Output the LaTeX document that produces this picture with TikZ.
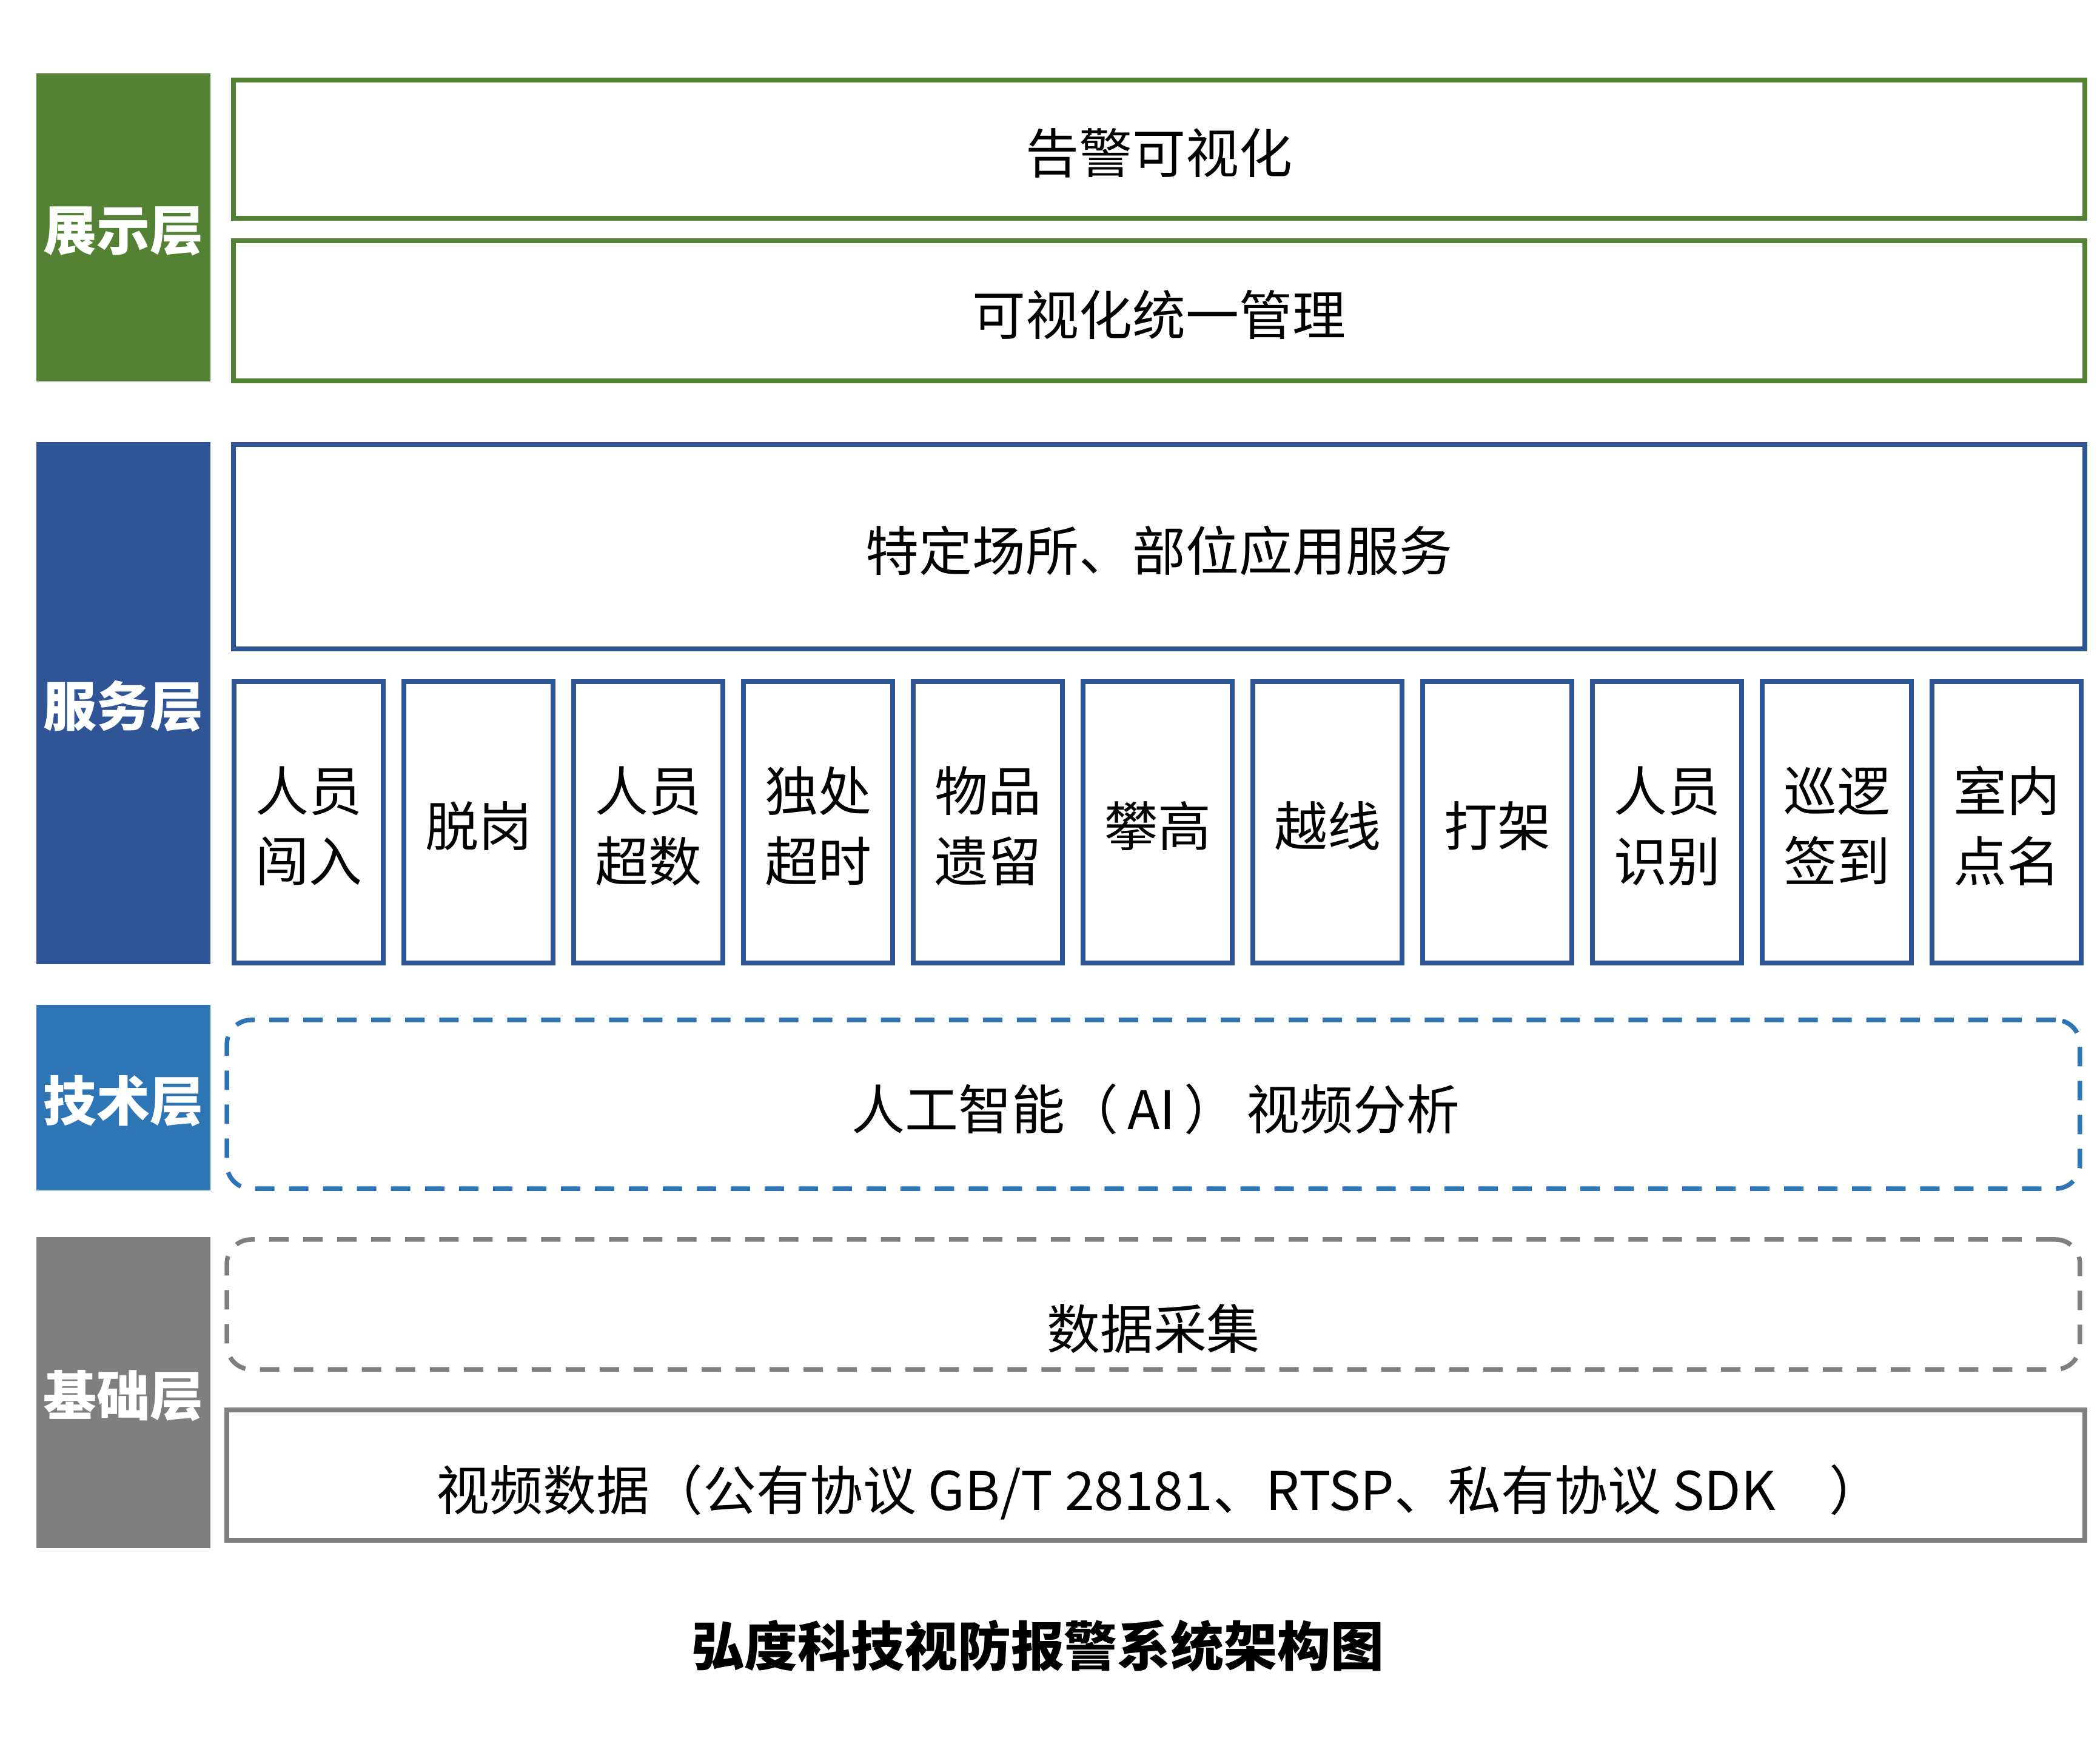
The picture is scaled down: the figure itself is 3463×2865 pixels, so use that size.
\documentclass[tikz,border=0pt]{standalone}
\usepackage{fontspec}
\setmainfont{Noto Sans CJK SC}
\definecolor{cgreen}{HTML}{548235}
\definecolor{cdblue}{HTML}{2F5597}
\definecolor{cblue}{HTML}{2E75B6}
\definecolor{cgray}{HTML}{7F7F7F}
\tikzset{
  txt/.style={font=\fontsize{25pt}{33pt}\selectfont, text=black, inner sep=0pt, align=center},
  boldtxt/.style={font=\fontsize{25pt}{33pt}\selectfont\bfseries, text=#1, inner sep=0pt},
  layerlabel/.style={fill=#1, draw=none, inner sep=0pt, minimum width=2.87cm},
  framebox/.style={draw=#1, line width=0.08cm, fill=white, inner sep=0pt},
  dashbox/.style={draw=#1, line width=0.075cm, rounded corners=0.4cm, inner sep=0pt,
     dash pattern=on 0.32cm off 0.24cm},
  itembox/.style={framebox=cdblue, minimum width=2.46cm, minimum height=4.64cm},
}
\begin{document}
\begin{tikzpicture}[x=0.01cm,y=-0.01cm]
\useasboundingbox (0,0) rectangle (3463,2865);
% layer labels
\node[layerlabel=cgreen, minimum height=5.08cm] (Lshow) at (203.5,375) {};
\node[layerlabel=cdblue, minimum height=8.61cm] (Lserv) at (203.5,1159.5) {};
\node[layerlabel=cblue, minimum height=3.06cm] (Ltech) at (203.5,1810) {};
\node[layerlabel=cgray, minimum height=5.13cm] (Lbase) at (203.5,2296.5) {};
\node[boldtxt=white] (Lshowt) at (203.5,381) {展示层};
\node[boldtxt=white] (Lservt) at (203.5,1165) {服务层};
\node[boldtxt=white] (Ltecht) at (203.5,1816) {技术层};
\node[boldtxt=white] (Lbaset) at (203.5,2302) {基础层};
% presentation layer
\node[framebox=cgreen, minimum width=30.51cm, minimum height=2.28cm] (alarm) at (1911.5,246) {};
\node[txt] (alarmt) at (1911.5,252) {告警可视化};
\node[framebox=cgreen, minimum width=30.51cm, minimum height=2.31cm] (manage) at (1911.5,512.5) {};
\node[txt] (managet) at (1911.5,519) {可视化统一管理};
% service layer
\node[framebox=cdblue, minimum width=30.51cm, minimum height=3.37cm] (service) at (1911.5,901.5) {};
\node[txt] (servicet) at (1911.5,908) {特定场所、部位应用服务};
\foreach \i/\t in {0/人员\\闯入, 1/脱岗, 2/人员\\超数, 3/独处\\超时, 4/物品\\遗留, 5/攀高, 6/越线, 7/打架, 8/人员\\识别, 9/巡逻\\签到, 10/室内\\点名}{
  \node[itembox] (item\i) at ({509+280*\i},1356) {};
  \node[txt] (item\i t) at ({509+280*\i},1362) {\t};
}
% technology layer
\node[dashbox=cblue, minimum width=30.54cm, minimum height=2.78cm] (ai) at (1902,1821) {};
\node[txt] (ait) at (1906,1829) {人工智能（\,AI\,）\,视频分析};
% base layer
\node[dashbox=cgray, minimum width=30.54cm, minimum height=2.14cm] (collect) at (1902,2151) {};
\node[txt] (collectt) at (1902,2191) {数据采集};
\node[framebox=cgray, minimum width=30.62cm, minimum height=2.15cm] (video) at (1906,2432.5) {};
\node[txt] (videot) at (1912,2461) {视频数据（公有协议 GB/T 28181、RTSP、私有协议 SDK\quad ）};
% title
\node[boldtxt=black] (title) at (1711,2714) {弘度科技视防报警系统架构图};
\end{tikzpicture}
\end{document}
